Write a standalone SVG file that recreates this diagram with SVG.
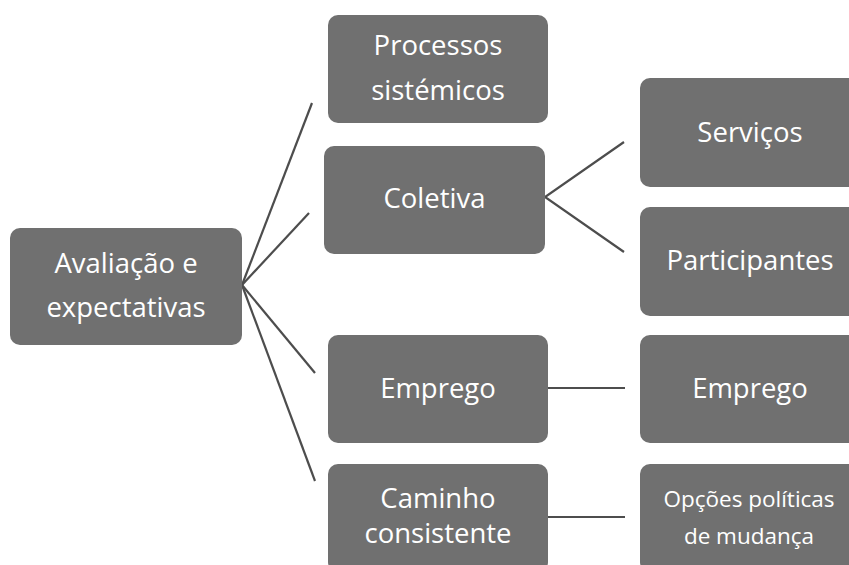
<svg xmlns="http://www.w3.org/2000/svg" width="849" height="565" viewBox="0 0 849 565">
<style>
.box{fill:#707070;}
.t{font-family:"Open Sans","Liberation Sans",sans-serif;font-size:27.5px;fill:#ffffff;text-anchor:middle;}
.s{font-size:22.5px;}
.c{stroke:#4d4d4d;stroke-width:2.2;fill:none;}
</style>
<rect width="849" height="565" fill="#ffffff"/>
<g id="connectors">
<line class="c" x1="242" y1="285" x2="312" y2="103"/>
<line class="c" x1="242" y1="285" x2="309" y2="213"/>
<line class="c" x1="242" y1="285" x2="315" y2="373"/>
<line class="c" x1="242" y1="285" x2="315" y2="481"/>
<polyline class="c" points="624,142 545,197 624,252"/>
<line class="c" x1="548" y1="388" x2="625" y2="388"/>
<line class="c" x1="548" y1="517" x2="625" y2="517"/>
</g>
<g id="root">
<rect class="box" x="10" y="228" width="232" height="117" rx="10"/>
<text class="t" x="126" y="273">Avaliação e</text>
<text class="t" x="126" y="317">expectativas</text>
</g>
<g id="processos">
<rect class="box" x="328" y="15" width="220" height="108" rx="10"/>
<text class="t" x="438" y="55">Processos</text>
<text class="t" x="438" y="100">sistémicos</text>
</g>
<g id="coletiva">
<rect class="box" x="324" y="146" width="221" height="108" rx="10"/>
<text class="t" x="434.5" y="208">Coletiva</text>
</g>
<g id="servicos">
<rect class="box" x="640" y="78" width="220" height="109" rx="10"/>
<text class="t" x="750" y="142">Serviços</text>
</g>
<g id="participantes">
<rect class="box" x="640" y="207" width="220" height="109" rx="10"/>
<text class="t" x="750" y="270">Participantes</text>
</g>
<g id="emprego1">
<rect class="box" x="328" y="335" width="220" height="108" rx="10"/>
<text class="t" x="438" y="398">Emprego</text>
</g>
<g id="caminho">
<rect class="box" x="328" y="464" width="220" height="108" rx="10"/>
<text class="t" x="438" y="508">Caminho</text>
<text class="t" x="438" y="543">consistente</text>
</g>
<g id="emprego2">
<rect class="box" x="640" y="335" width="220" height="108" rx="10"/>
<text class="t" x="750" y="398">Emprego</text>
</g>
<g id="opcoes">
<rect class="box" x="640" y="464" width="220" height="108" rx="10"/>
<text class="t s" x="749" y="507">Opções políticas</text>
<text class="t s" x="749" y="544">de mudança</text>
</g>
</svg>
